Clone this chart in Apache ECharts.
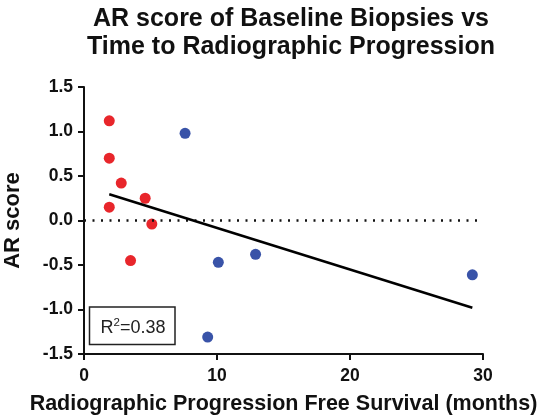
<!DOCTYPE html>
<html>
<head>
<meta charset="utf-8">
<script src="https://cdn.jsdelivr.net/npm/echarts@6/dist/echarts.min.js"></script>
<style>
  html, body { margin: 0; padding: 0; background: #fff; }
  #chart { width: 545px; height: 416px; }
</style>
</head>
<body>
<div id="chart"></div>
<script>
    // 数据
    var redX = [1.9, 1.9, 2.8, 1.9, 4.6, 5.1, 3.5];
    var redY = [1.12, 0.70, 0.42, 0.15, 0.25, -0.04, -0.45];
    var blueX = [7.6, 10.1, 12.9, 9.3, 29.2];
    var blueY = [0.98, -0.47, -0.38, -1.31, -0.61];
    var xTicks = [0, 10, 20, 30];
    var yTicks = [-1.5, -1.0, -0.5, 0.0, 0.5, 1.0, 1.5];
    var r2Label = '0.38';

    function pairs(xs, ys) {
        var out = [];
        for (var i = 0; i < xs.length; i++) {
            out.push([xs[i], ys[i]]);
        }
        return out;
    }

    // linear fit over all points
    var allX = redX.concat(blueX);
    var allY = redY.concat(blueY);
    var n = allX.length, mx = 0, my = 0;
    for (var i = 0; i < n; i++) { mx += allX[i]; my += allY[i]; }
    mx /= n; my /= n;
    var sxy = 0, sxx = 0;
    for (var i = 0; i < n; i++) {
        sxy += (allX[i] - mx) * (allY[i] - my);
        sxx += (allX[i] - mx) * (allX[i] - mx);
    }
    var slope = sxy / sxx;
    var icept = my - slope * mx;
    var xMin = Math.min.apply(null, allX), xMax = Math.max.apply(null, allX);
    var fitLine = [[xMin, icept + slope * xMin], [xMax, icept + slope * xMax]];

    var font = 'Liberation Sans, Arial, sans-serif';
    var myChart = echarts.init(document.getElementById('chart'));
    myChart.setOption({
        animation: false,
        title: {
            text: 'AR score of Baseline Biopsies vs\nTime to Radiographic Progression',
            left: 286,
            textAlign: 'center',
            top: 0,
            textStyle: {
                fontFamily: font,
                fontSize: 25,
                fontWeight: 'bold',
                color: '#111',
                lineHeight: 28
            }
        },
        grid: {
            left: 84,
            right: 62,
            top: 87,
            bottom: 62,
            outerBoundsMode: 'none',
            containLabel: false
        },
        xAxis: {
            type: 'value',
            min: xTicks[0],
            max: xTicks[xTicks.length - 1],
            interval: 10,
            name: 'Radiographic Progression Free Survival (months)',
            nameLocation: 'middle',
            nameGap: 39,
            nameTextStyle: { fontFamily: font, fontSize: 21.5, fontWeight: 'bold', color: '#111' },
            splitLine: { show: false },
            axisLine: { onZero: false, lineStyle: { color: '#111', width: 2 } },
            axisTick: { length: 6, lineStyle: { color: '#111', width: 2 } },
            axisLabel: { fontFamily: font, fontSize: 17.5, fontWeight: 'bold', color: '#111', margin: 13 }
        },
        yAxis: {
            type: 'value',
            min: yTicks[0],
            max: yTicks[yTicks.length - 1],
            interval: 0.5,
            name: 'AR score',
            nameLocation: 'middle',
            nameGap: 60,
            nameTextStyle: { fontFamily: font, fontSize: 22, fontWeight: 'bold', color: '#111' },
            splitLine: { show: false },
            axisLine: { show: true, onZero: false, lineStyle: { color: '#111', width: 2 } },
            axisTick: { show: true, length: 6, lineStyle: { color: '#111', width: 2 } },
            axisLabel: {
                fontFamily: font, fontSize: 17.5, fontWeight: 'bold', color: '#111', margin: 11,
                formatter: function (v) { return v.toFixed(1); }
            }
        },
        series: [
            {
                type: 'line',
                data: [[xTicks[0], 0], [xTicks[xTicks.length - 1], 0]],
                symbol: 'none',
                lineStyle: { color: '#111', width: 2.5, type: [2, 6.5] },
                silent: true
            },
            {
                type: 'line',
                data: fitLine,
                symbol: 'none',
                lineStyle: { color: '#000', width: 2.5 },
                silent: true
            },
            {
                type: 'scatter',
                data: pairs(redX, redY),
                symbolSize: 11,
                itemStyle: { color: '#e8262b', opacity: 1 }
            },
            {
                type: 'scatter',
                data: pairs(blueX, blueY),
                symbolSize: 11,
                itemStyle: { color: '#3953a8', opacity: 1 }
            }
        ],
        graphic: [
            {
                type: 'rect',
                shape: { x: 89.5, y: 307, width: 85.5, height: 37.5 },
                style: { fill: '#fff', stroke: '#222', lineWidth: 1.5 }
            },
            {
                type: 'text',
                x: 133,
                y: 327,
                style: {
                    text: '{b|R}{s|2}{b|=' + r2Label + '}',
                    align: 'center',
                    verticalAlign: 'middle',
                    rich: {
                        b: { fontFamily: font, fontSize: 18, fill: '#222', verticalAlign: 'bottom' },
                        s: { fontFamily: font, fontSize: 11.5, fill: '#222', verticalAlign: 'top', padding: [0, 0, 8, 0] }
                    }
                }
            }
        ]
    });
    window.addEventListener('resize', myChart.resize);
</script>
</body>
</html>
